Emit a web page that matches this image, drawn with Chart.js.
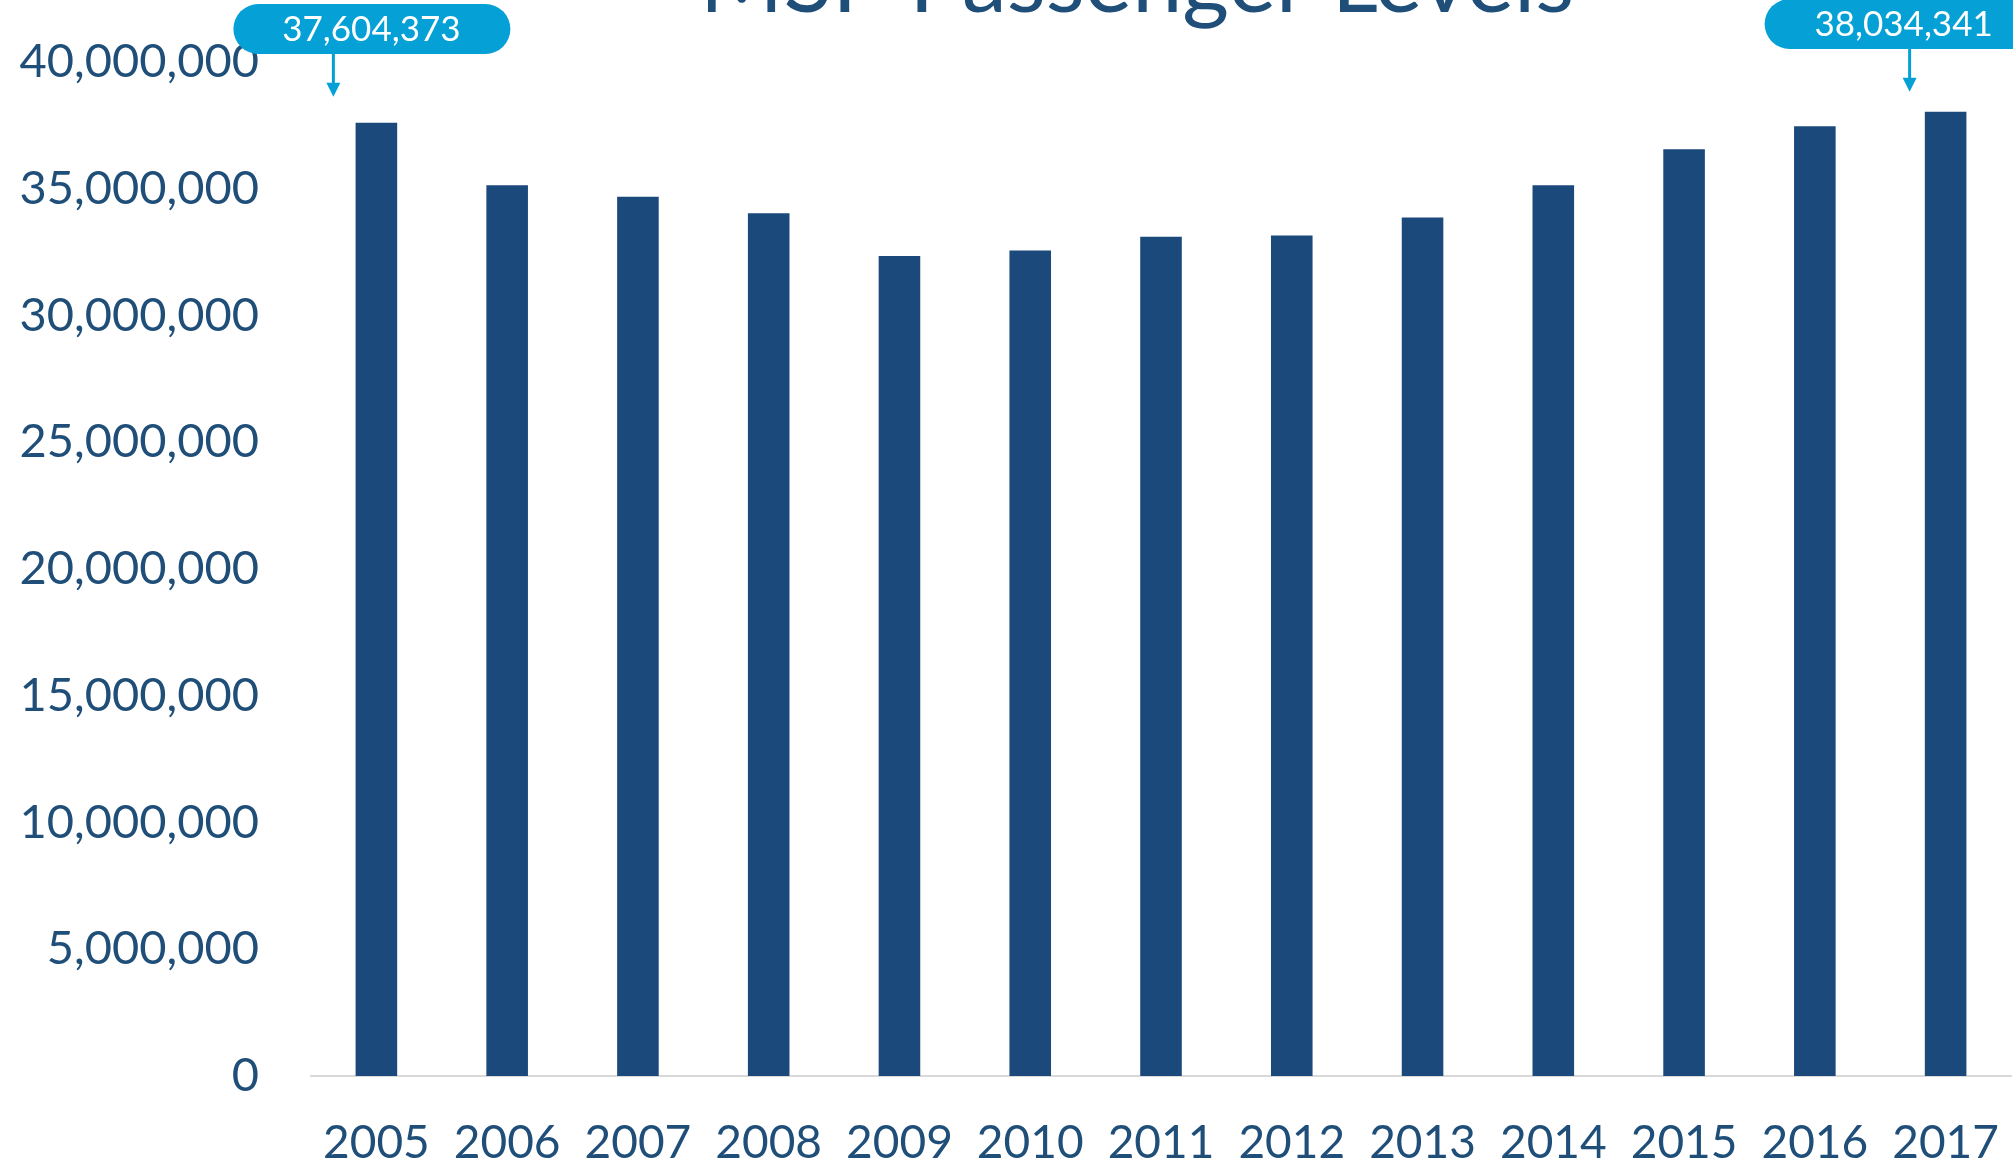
<!DOCTYPE html>
<html>
<head>
<meta charset="utf-8">
<title>MSP Passenger Levels</title>
<script src="https://cdn.jsdelivr.net/npm/chart.js@4"></script>
<style>
  html, body { margin: 0; padding: 0; background: #ffffff; overflow: hidden; }
  #passengerChart { display: block; }
</style>
</head>
<body>
<canvas id="passengerChart" width="2013" height="1167"></canvas>
<script>
// values (annual passengers)
const years = ["2005", "2006", "2007", "2008", "2009", "2010", "2011", "2012", "2013", "2014", "2015", "2016", "2017"];
const passengers = [37604373, 35140000, 34680000, 34030000, 32350000, 32560000, 33110000, 33160000, 33870000, 35140000, 36560000, 37470000, 38034341];
const yTicks = [0, 5000000, 10000000, 15000000, 20000000, 25000000, 30000000, 35000000, 40000000];
const callouts = [0, 12]; // indexes of bars with a bubble label

const darkBlue = "#1b497b";
const textBlue = "#1f4e79";
const bubbleBlue = "#05a1d6";

// title sits mostly above the top edge, like the original slide
const titlePlugin = {
  id: "cutTitle",
  afterDraw(chart) {
    const ctx = chart.ctx;
    ctx.save();
    ctx.font = "90px Lato";
    ctx.fillStyle = textBlue;
    ctx.textAlign = "center";
    ctx.textBaseline = "alphabetic";
    ctx.fillText("MSP Passenger Levels", 1137, 12);
    ctx.restore();
  },
};

function drawArrow(ctx, x, y0, y1) {
  ctx.strokeStyle = bubbleBlue;
  ctx.fillStyle = bubbleBlue;
  ctx.lineWidth = 3;
  ctx.beginPath();
  ctx.moveTo(x, y0);
  ctx.lineTo(x, y1 - 12);
  ctx.stroke();
  ctx.beginPath();
  ctx.moveTo(x - 7, y1 - 14);
  ctx.lineTo(x + 7, y1 - 14);
  ctx.lineTo(x, y1);
  ctx.closePath();
  ctx.fill();
}

function pill(ctx, x1, y1, x2, y2) {
  const r = (y2 - y1) / 2;
  ctx.beginPath();
  ctx.moveTo(x1 + r, y1);
  ctx.lineTo(x2 - r, y1);
  ctx.arc(x2 - r, y1 + r, r, -Math.PI / 2, Math.PI / 2);
  ctx.lineTo(x1 + r, y2);
  ctx.arc(x1 + r, y1 + r, r, Math.PI / 2, Math.PI * 1.5);
  ctx.closePath();
  ctx.fill();
}

const calloutPlugin = {
  id: "callouts",
  afterDatasetsDraw(chart) {
    const ctx = chart.ctx;
    const xs = chart.scales.x;
    const ys = chart.scales.y;
    ctx.save();
    callouts.forEach((i, n) => {
      const cx = xs.getPixelForValue(i);
      const top = ys.getPixelForValue(passengers[i]);
      const label = passengers[i].toLocaleString("en-US");
      ctx.fillStyle = bubbleBlue;
      let textX, textY;
      if (n === 0) {
        pill(ctx, cx - 143, 4, cx + 134, 54);
        textX = cx - 5;
        textY = 30;
        drawArrow(ctx, cx - 43, 54, top - 26);
      } else {
        pill(ctx, cx - 181, -1, cx + 160, 49);
        textX = cx - 42;
        textY = 25;
        drawArrow(ctx, cx - 36, 49, top - 20);
      }
      ctx.fillStyle = "#ffffff";
      ctx.font = "35px Lato";
      ctx.textAlign = "center";
      ctx.textBaseline = "middle";
      ctx.fillText(label, textX, textY);
    });
    ctx.restore();
  },
};

const ctx = document.getElementById("passengerChart").getContext("2d");

new Chart(ctx, {
  type: "bar",
  data: {
    labels: years,
    datasets: [
      {
        label: "Passengers",
        data: passengers,
        backgroundColor: darkBlue,
        borderWidth: 0,
        barPercentage: 0.318,
        categoryPercentage: 1,
      },
    ],
  },
  options: {
    responsive: false,
    animation: false,
    devicePixelRatio: 1,
    layout: {
      padding: { top: 62, right: 2, left: 0, bottom: 0 },
    },
    plugins: {
      legend: { display: false },
      title: { display: false },
      tooltip: { enabled: false },
    },
    scales: {
      x: {
        grid: { display: false, drawTicks: false },
        border: { display: true, color: "#d9d9d9", width: 2 },
        ticks: {
          color: textBlue,
          font: { family: "Lato", size: 46 },
          padding: 40,
          maxRotation: 0,
          autoSkip: false,
        },
        afterFit(scale) {
          scale.height = 91;
          scale.paddingLeft = 0;
          scale.paddingRight = 0;
        },
      },
      y: {
        min: 0,
        max: 40000000,
        grid: { display: false, drawTicks: false },
        border: { display: false },
        afterBuildTicks(scale) {
          scale.ticks = yTicks.map((v) => ({ value: v }));
        },
        ticks: {
          color: textBlue,
          font: { family: "Lato", size: 47 },
          padding: 52,
          callback: (v) => Number(v).toLocaleString("en-US"),
        },
        afterFit(scale) {
          scale.width = 311;
          scale.paddingTop = 0;
          scale.paddingBottom = 0;
        },
      },
    },
  },
  plugins: [titlePlugin, calloutPlugin],
});
</script>
</body>
</html>
